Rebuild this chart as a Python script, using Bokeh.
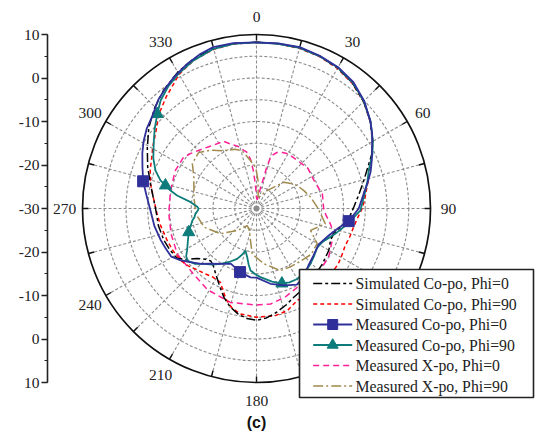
import numpy as np
from bokeh.plotting import figure
from bokeh.models import Range1d, FixedTicker
from bokeh.core.properties import value
from bokeh.embed import file_html
from bokeh.resources import INLINE

# ---------------- data (angle in degrees, gain in dB) ----------------
sim0_ang = [0, 7.5, 15, 22.5, 30, 37.5, 45, 52.5, 60, 65, 70.5, 75, 82, 89, 95, 100, 108, 113, 120,
            130, 140, 150, 157, 163, 169, 175, 180, 185, 190, 195, 200, 205, 212, 217, 221, 225, 230,
            234, 238, 245, 251, 260, 270, 277, 284, 291, 299, 307, 315, 322, 330, 337, 345, 352, 360]
sim0_db = [8.2, 8.2, 8.3, 7.9, 7.3, 6.3, 4.8, 3.0, 0.9, -0.8, -3.0, -4.4, -6.2, -7.6, -8.5, -9.6, -11.3,
           -11.5, -10.8, -10.2, -9.5, -8.6, -7.9, -6.8, -5.7, -4.7, -4.3, -4.6, -5.4, -6.6, -8.2, -10.1,
           -12.3, -13.5, -14.0, -13.5, -12.1, -10.0, -8.4, -7.9, -7.5, -7.1, -6.8, -6.0, -4.8, -3.2, -1.3,
           1.0, 3.0, 4.6, 6.2, 7.3, 8.1, 8.3, 8.2]

sim90_ang = [0, 7.5, 15, 22.5, 30, 37.5, 45, 52.5, 60, 67.5, 75, 80, 85, 90, 95, 100, 107, 113, 117,
             124, 135, 145, 156, 163, 170, 180, 189, 194, 198, 202, 206, 213, 218, 223, 230, 236, 243,
             250, 260, 267, 275, 283, 290, 296, 301, 307, 314, 321, 330, 337, 345, 352, 360]
sim90_db = [8.2, 8.2, 8.1, 7.8, 7.2, 6.2, 4.8, 2.9, 0.8, -1.4, -3.3, -4.3, -5.0, -5.7, -6.6, -7.2, -7.6,
            -7.9, -7.7, -7.3, -7.0, -6.8, -6.9, -5.5, -5.0, -5.0, -5.5, -6.5, -7.8, -9.5, -11.1, -11.3,
            -10.9, -10.5, -9.5, -8.8, -8.5, -8.2, -7.6, -7.1, -6.3, -5.0, -4.0, -3.2, -2.2, -1.0, 1.2,
            3.0, 5.6, 7.0, 7.9, 8.2, 8.2]

meas0_ang = [0, 7.5, 15, 22.5, 30, 37.5, 45, 52.5, 57, 62, 67, 72, 77, 82, 90, 97.8, 103, 110, 120,
             130, 137.5, 145, 152, 160, 169.5, 180, 185, 194.5, 205, 212, 219.7, 225, 231, 236, 240.5,
             246, 252, 260, 270, 277, 283.5, 290, 296, 301, 306, 311, 318, 323, 328, 334, 340, 345, 352, 360]
meas0_db = [8.2, 8.3, 8.4, 8.0, 7.5, 6.6, 5.0, 3.0, 1.7, 0.1, -1.2, -2.4, -3.8, -5.1, -6.5, -8.6, -10.5,
            -12.2, -13.5, -13.0, -12.3, -11.0, -10.2, -11.2, -12.4, -14.1, -14.1, -14.9, -16.0, -15.0,
            -13.5, -12.0, -10.4, -8.8, -7.5, -7.2, -6.8, -6.2, -5.5, -4.5, -3.2, -2.1, -0.8, 0.25, 1.2,
            1.9, 3.7, 4.7, 5.7, 6.8, 7.8, 8.4, 8.4, 8.2]
meas0_marks = [97.8, 194.5, 283.5]

meas90_ang = [0, 7.5, 15, 22.5, 30, 37.5, 45, 52.5, 60, 65, 71, 76, 80, 86, 91, 96, 102, 107, 111, 117,
              122.5, 130, 136, 143, 150, 156, 161.3, 168, 176.7, 181, 185.5, 188, 190.8, 194.7, 197, 201,
              207, 213, 218, 223.6, 228, 233, 236, 239, 245, 250.7, 255, 259.4, 262, 265, 268, 270, 272,
              275.5, 279.3, 281.8, 284.2, 286.3, 290.6, 296, 303.5, 308, 313.6, 318.4, 324, 330, 337,
              345, 352, 360]
meas90_db = [8.2, 8.2, 8.2, 7.9, 7.4, 6.4, 4.9, 3.0, 0.9, -0.6, -2.7, -3.7, -4.5, -5.5, -6.1, -7.8, -9.5,
             -10.8, -11.8, -13.0, -13.4, -12.8, -12.2, -11.6, -11.3, -11.4, -11.8, -12.8, -14.2, -14.9,
             -15.7, -17.0, -18.6, -20.0, -19.0, -17.6, -16.2, -14.8, -13.6, -12.4, -11.0, -10.1, -10.5,
             -11.4, -12.6, -13.5, -14.3, -15.0, -15.6, -15.9, -16.5, -16.7, -16.3, -14.8, -11.5, -9.8,
             -8.4, -7.0, -5.2, -3.6, -1.7, -0.3, 1.5, 3.2, 4.6, 5.8, 7.0, 8.0, 8.2, 8.2]
meas90_marks = [161.3, 250.7, 284.2, 313.6]

xpo0_ang = [0, 5, 10, 13, 14, 15.5, 20, 25, 30, 40, 52, 64, 78, 92, 102, 106, 113, 124, 135, 145,
            152.7, 162, 171.6, 180, 195.5, 211, 224, 240, 253, 266.5, 281.8, 295, 305, 310, 317.7,
            326, 334, 338, 343, 347.6, 350, 353, 355, 357.5, 360]
xpo0_db = [-27.5, -28, -26, -23, -20, -17.5, -16.3, -15.8, -15.5, -15.5, -15.0, -15.3, -14.5, -14.5,
           -12.6, -11.8, -11.1, -10.0, -9.6, -9.4, -9.6, -8.6, -7.8, -7.8, -7.6, -8.2, -9.1, -9.0, -9.5,
           -9.8, -9.8, -9.4, -9.5, -10.3, -11.5, -12.4, -12.8, -14.0, -15.0, -16.3, -16.8, -18.5, -21,
           -24.5, -27.5]

xpo90_ang = [0, 3, 5, 8, 15, 22, 30.7, 46, 58, 69, 78, 89, 96, 102.5, 112, 120, 130, 140, 150, 159,
             172.5, 185.4, 190.6, 200, 208.7, 221, 235, 250.5, 265, 280, 296.5, 305, 314, 322, 330, 340,
             346, 350, 355, 358.6, 360]
xpo90_db = [-21.5, -23.5, -25.5, -27.3, -27.2, -26.5, -25.2, -21.3, -19.5, -18.4, -17.3, -16.0, -15.0,
            -13.8, -16.6, -13.9, -13.6, -14.2, -14.5, -14.7, -17.2, -19.5, -22.5, -25.0, -25.5, -23.3,
            -19.9, -17.2, -16.0, -15.4, -13.9, -12.0, -11.5, -13.0, -14.7, -15.5, -16.3, -18.0, -19.5,
            -20.5, -21.5]

series_labels = ["Simulated Co-po, Phi=0", "Simulated Co-po, Phi=90", "Measured Co-po, Phi=0",
                 "Measured Co-po, Phi=90", "Measured X-po, Phi=0", "Measured X-po, Phi=90"]

R_MIN, R_MAX = -30, 10
grid_levels = [-25, -20, -15, -10, -5, 0, 5]
angle_ticks = list(range(0, 360, 30))
angle_labels = [str(a) for a in angle_ticks]
left_ticks = [-40, -30, -20, -10, 0, 10, 20, 30, 40]
left_labels = ["10", "0", "-10", "-20", "-30", "-20", "-10", "0", "10"]

# ---------------- layout constants (pixels) ----------------
W, H = 541, 433
CX, CY = 256.0, 208.0
PXU = 4.35          # pixels per dB
LEFT = 47
SERIF = "Liberation Serif"

def sx(px):
    return (px - CX) / PXU

def sy(py):
    return (CY - py) / PXU

def pol(ang, db):
    a = np.radians(np.asarray(ang, dtype=float))
    r = np.asarray(db, dtype=float) - R_MIN
    return r * np.sin(a), r * np.cos(a)

p = figure(width=W, height=H, x_range=Range1d(sx(LEFT), sx(W)), y_range=Range1d(sy(H), sy(0)),
           output_backend="svg", toolbar_location=None, title=None,
           x_axis_location=None, y_axis_location="left",
           min_border_left=LEFT, min_border_right=0, min_border_top=0, min_border_bottom=0)
p.outline_line_color = None
p.grid.visible = False
p.background_fill_color = "white"
p.border_fill_color = "white"

ax = p.yaxis[0]
ax.ticker = FixedTicker(ticks=left_ticks, minor_ticks=list(range(-40, 41, 5)))
ax.major_label_overrides = {t: l for t, l in zip(left_ticks, left_labels)}
ax.bounds = (-40, 40)
ax.axis_line_width = 1.6
ax.axis_line_color = "#222222"
ax.major_tick_out = 6
ax.major_tick_in = 0
ax.minor_tick_out = 3
ax.minor_tick_in = 0
ax.major_tick_line_width = 1.4
ax.minor_tick_line_width = 1.2
ax.major_tick_line_color = "#222222"
ax.minor_tick_line_color = "#222222"
ax.major_label_text_font = SERIF
ax.major_label_text_font_size = "15.5px"
ax.major_label_text_color = "#222222"
ax.major_label_standoff = 2

RO = R_MAX - R_MIN
GRID = "#8c8c8c"

# grid circles
p.circle(x=[0] * len(grid_levels), y=[0] * len(grid_levels),
         radius=[g - R_MIN for g in grid_levels], fill_color=None,
         line_color=GRID, line_dash="3 2", line_width=1.1)
# radial lines
sp = np.radians(np.arange(0, 360, 15))
p.segment(x0=np.zeros(len(sp)), y0=np.zeros(len(sp)), x1=RO * np.sin(sp), y1=RO * np.cos(sp),
          line_color=GRID, line_dash="3 2", line_width=1.1)
# outer circle and ticks
p.circle(x=[0], y=[0], radius=[RO], fill_color=None, line_color="#111111", line_width=1.7)
rin = RO - 6 / PXU
p.segment(x0=rin * np.sin(sp), y0=rin * np.cos(sp), x1=RO * np.sin(sp), y1=RO * np.cos(sp),
          line_color="#111111", line_width=1.4)
# angle labels
ta = np.radians(angle_ticks)
rl = 192 / PXU
p.text(x=rl * np.sin(ta), y=rl * np.cos(ta), text=angle_labels, text_align="center",
       text_baseline="middle", text_font=value(SERIF), text_font_size="15.5px", text_color="#222222")

styles = [
    dict(color="#000000", dash="9 3 3 3", width=1.5, marker=None),
    dict(color="#ff0000", dash="4 3", width=1.5, marker=None),
    dict(color="#30309a", dash="solid", width=1.8, marker="square"),
    dict(color="#0e7c7b", dash="solid", width=1.8, marker="triangle"),
    dict(color="#ff1f96", dash="6 4", width=1.5, marker=None),
    dict(color="#a08a4c", dash="10 3 2 3", width=1.5, marker=None),
]
series = [(sim0_ang, sim0_db, None), (sim90_ang, sim90_db, None), (meas0_ang, meas0_db, meas0_marks),
          (meas90_ang, meas90_db, meas90_marks), (xpo0_ang, xpo0_db, None), (xpo90_ang, xpo90_db, None)]

draw_order = [4, 5, 1, 0, 3, 2]
for i in draw_order:
    ang, db, marks = series[i]
    st = styles[i]
    x, y = pol(ang, db)
    p.line(x, y, line_color=st["color"], line_dash=st["dash"], line_width=st["width"])
    if marks is not None:
        sel = np.isin(np.asarray(ang, dtype=float), np.asarray(marks, dtype=float))
        mx, my = pol(np.asarray(ang)[sel], np.asarray(db)[sel])
        p.scatter(mx, my, marker=st["marker"], size=12 if st["marker"] == "triangle" else 11,
                  fill_color=st["color"], line_color=st["color"])

# legend (drawn manually)
LX0, LX1, LY0, LY1 = 299, 533, 269, 397
p.quad(left=[sx(LX0)], right=[sx(LX1)], top=[sy(LY0)], bottom=[sy(LY1)], fill_color="white",
       line_color="#222222", line_width=1.6)
row_y = [283 + 20.5 * k for k in range(6)]
g0, g1, tx = 312.7, 351.7, 355
for k, lab in enumerate(series_labels):
    st = styles[k]
    yy = sy(row_y[k])
    p.line([sx(g0), sx(g1)], [yy, yy], line_color=st["color"], line_dash=st["dash"],
           line_width=st["width"])
    if st["marker"] is not None:
        p.scatter([sx((g0 + g1) / 2)], [yy], marker=st["marker"],
                  size=11 if st["marker"] == "triangle" else 10,
                  fill_color=st["color"], line_color=st["color"])
p.text(x=[sx(tx)] * 6, y=[sy(v) for v in row_y], text=series_labels, text_align="left",
       text_baseline="middle", text_font=value(SERIF), text_font_size="15.8px", text_color="#222222")

# caption
p.text(x=[sx(256)], y=[sy(422)], text=["(c)"], text_align="center", text_baseline="middle",
       text_font=value("Liberation Sans"), text_font_style="bold", text_font_size="16px",
       text_color="#111111")

open("out.html", "w").write(file_html(p, INLINE))
